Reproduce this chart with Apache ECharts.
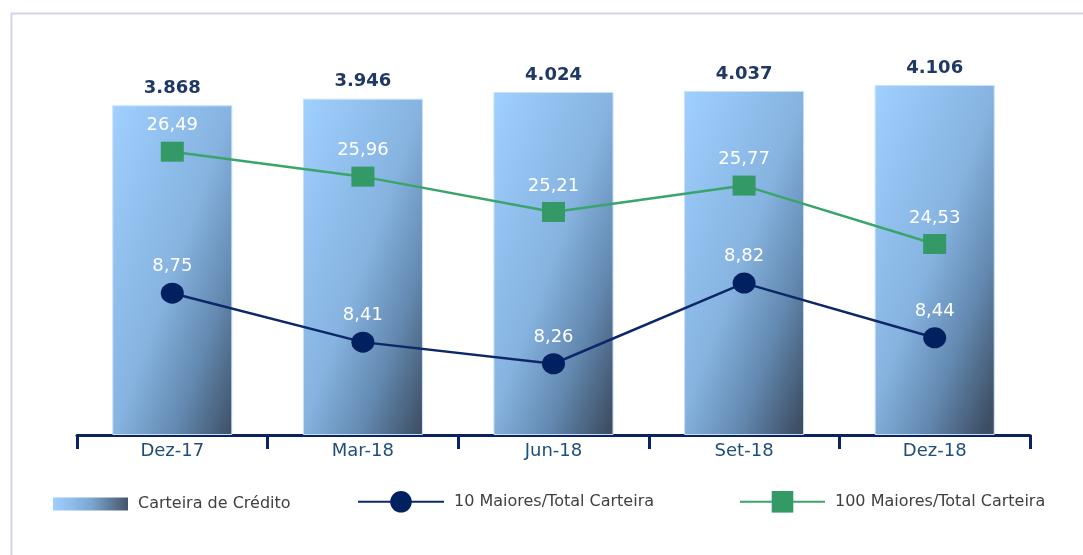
<!DOCTYPE html>
<html>
<head>
    <meta charset="utf-8" />
    <title></title>
    <script src="https://cdn.jsdelivr.net/npm/echarts@6/dist/echarts.min.js"></script>
    <style>
        html, body { margin: 0; padding: 0; background: #fff; }
    </style>
</head>
<body>
    <div id="main" style="width: 1083px; height: 555px;"></div>
    <script type="text/javascript">
        // dados
        var categorias = ['Dez-17', 'Mar-18', 'Jun-18', 'Set-18', 'Dez-18'];
        var carteira = [3868, 3946, 4024, 4037, 4106];
        var maiores10 = [8.75, 8.41, 8.26, 8.82, 8.44];
        var maiores100 = [26.49, 25.96, 25.21, 25.77, 24.53];

        var fonte = '"DejaVu Sans", Verdana, sans-serif';

        function milhar(v) {
            return String(v).replace(/\B(?=(\d{3})+(?!\d))/g, '.');
        }
        function decimal(v) {
            return v.toFixed(2).replace('.', ',');
        }

        var myChart = echarts.init(document.getElementById('main'));

        // gradiente diagonal da barra (claro em cima/esquerda, escuro embaixo/direita)
        var gradiente = new echarts.graphic.LinearGradient(0, 0, 1.77, 0.233, [
            { offset: 0, color: '#a0d0ff' },
            { offset: 0.5, color: '#86b3e0' },
            { offset: 0.75, color: '#6389b0' },
            { offset: 1, color: '#3d4d63' }
        ]);
        var gradienteLegenda = new echarts.graphic.LinearGradient(0, 0, 1, 0, [
            { offset: 0, color: '#a0d0ff' },
            { offset: 0.5, color: '#7ea8d4' },
            { offset: 1, color: '#44546a' }
        ]);

        var textoLegenda = { fontFamily: fonte, fontSize: 16, color: '#404040', padding: [0, 0, 0, 5] };

        var option = {
            backgroundColor: '#fff',
            animation: false,
            graphic: [
                {
                    type: 'rect',
                    left: 9,
                    top: 11,
                    shape: { width: 1100, height: 600 },
                    style: { fill: 'none', stroke: '#d9d1ea', lineWidth: 2 },
                    z: -10
                }
            ],
            grid: {
                left: 77,
                right: 53,
                top: 35,
                bottom: 120
            },
            legend: [
                {
                    data: [{ name: 'Carteira de Crédito', itemStyle: { color: gradienteLegenda, borderWidth: 0 } }],
                    left: 48, top: 491,
                    itemWidth: 75, itemHeight: 13,
                    icon: 'rect',
                    textStyle: textoLegenda
                },
                {
                    data: ['10 Maiores/Total Carteira'],
                    left: 352, top: 486,
                    itemWidth: 86, itemHeight: 27,
                    textStyle: textoLegenda
                },
                {
                    data: ['100 Maiores/Total Carteira'],
                    left: 734, top: 486,
                    itemWidth: 85, itemHeight: 27,
                    textStyle: textoLegenda
                }
            ],
            xAxis: {
                type: 'category',
                data: categorias,
                axisLine: { lineStyle: { color: '#0b2262', width: 3 } },
                axisTick: { show: true, length: 14, lineStyle: { color: '#0b2262', width: 3 } },
                axisLabel: { color: '#1f4e79', fontFamily: fonte, fontSize: 18, margin: 7 }
            },
            yAxis: [
                { type: 'value', min: 0, max: 4693, show: false, splitLine: { show: false } },
                { type: 'value', min: 7.765, max: 10.543, show: false, splitLine: { show: false } },
                { type: 'value', min: 20.475, max: 28.967, show: false, splitLine: { show: false } }
            ],
            series: [
                {
                    name: 'Carteira de Crédito',
                    type: 'bar',
                    yAxisIndex: 0,
                    barWidth: '63%',
                    data: carteira,
                    itemStyle: { color: gradiente, borderColor: '#c9e2fb', borderWidth: 1 },
                    label: {
                        show: true,
                        position: 'top',
                        distance: 8,
                        color: '#1f3864',
                        fontFamily: fonte,
                        fontSize: 18,
                        fontWeight: 'bold',
                        formatter: function (p) { return milhar(p.value); }
                    }
                },
                {
                    name: '10 Maiores/Total Carteira',
                    type: 'line',
                    yAxisIndex: 1,
                    data: maiores10,
                    symbol: 'circle',
                    symbolSize: [23, 21],
                    lineStyle: { color: '#0d2868', width: 2.5 },
                    itemStyle: { color: '#002060' },
                    label: {
                        show: true,
                        position: 'top',
                        distance: 7,
                        color: '#fff',
                        fontFamily: fonte,
                        fontSize: 18,
                        formatter: function (p) { return decimal(p.value); }
                    }
                },
                {
                    name: '100 Maiores/Total Carteira',
                    type: 'line',
                    yAxisIndex: 2,
                    data: maiores100,
                    symbol: 'rect',
                    symbolSize: [23, 20],
                    lineStyle: { color: '#3aa56b', width: 2.5 },
                    itemStyle: { color: '#339966' },
                    label: {
                        show: true,
                        position: 'top',
                        distance: 7,
                        color: '#fff',
                        fontFamily: fonte,
                        fontSize: 18,
                        formatter: function (p) { return decimal(p.value); }
                    }
                }
            ]
        };
        myChart.setOption(option);
    </script>
</body>
</html>
